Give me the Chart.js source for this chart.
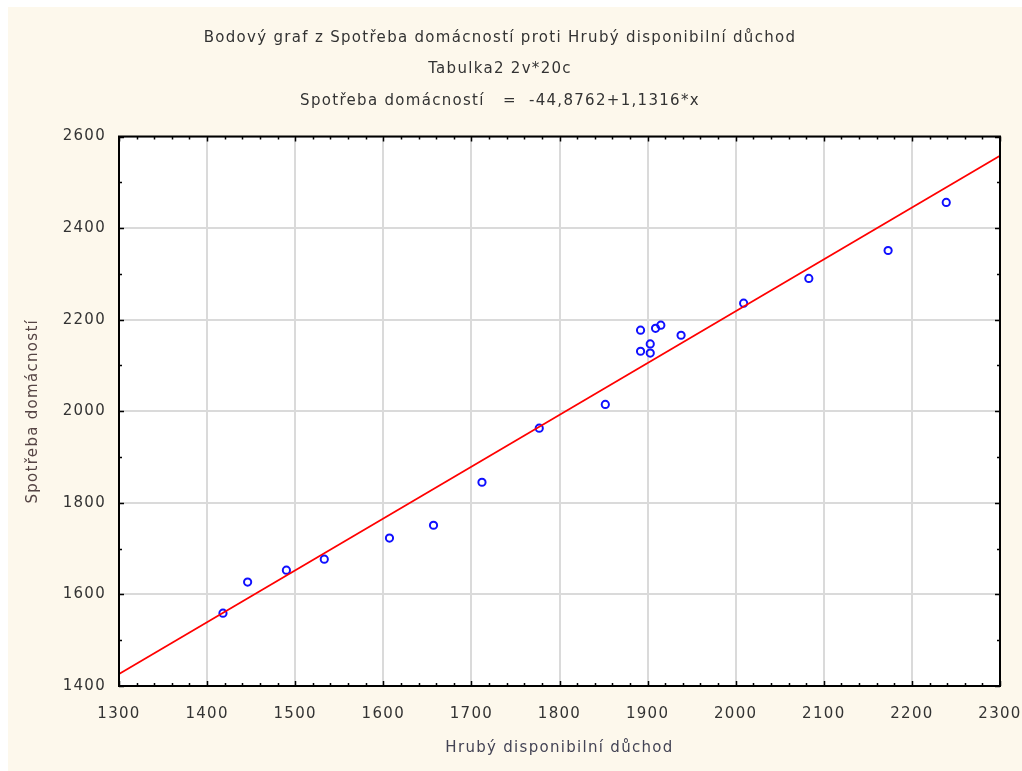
<!DOCTYPE html>
<html>
<head>
<meta charset="utf-8">
<script src="https://cdn.jsdelivr.net/npm/chart.js@4/dist/chart.umd.min.js"></script>
<style>
  html, body { margin: 0; padding: 0; background: #fff; }
  #wrap { width: 1022px; height: 771px; }
</style>
</head>
<body>
<div id="wrap"><canvas id="myChart" width="1022" height="771"></canvas></div>
<script>
// data
const prijem = [1418, 1446, 1490, 1533, 1607, 1657, 1712, 1777, 1852, 1892,
                1892, 1909, 1915, 1903, 1903, 1938, 2009, 2083, 2173, 2239];
const spotreba = [1559, 1627, 1653, 1677, 1723, 1751, 1845, 1963, 2015, 2177,
                  2131, 2181, 2188, 2147, 2127, 2166, 2236, 2290, 2351, 2456];
const xTicks = [1300, 1400, 1500, 1600, 1700, 1800, 1900, 2000, 2100, 2200, 2300];
const yTicks = [1400, 1600, 1800, 2000, 2200, 2400, 2600];
const titleLines = [
  'Bodový graf z Spotřeba domácností proti Hrubý disponibilní důchod',
  'Tabulka2 2v*20c',
  'Spotřeba domácností   =  -44,8762+1,1316*x'
];
const intercept = -44.8762;
const slope = 1.1316;

const points = prijem.map((x, i) => ({x: x, y: spotreba[i]}));
const fit = [xTicks[0], xTicks[xTicks.length - 1]].map(x => ({x: x, y: intercept + slope * x}));

const font = {family: '"DejaVu Sans", Verdana, sans-serif', size: 15};

// the original text is drawn wide, so spread the letters a little
const spacingPlugin = {
  id: 'spacing',
  beforeLayout(chart) { chart.ctx.letterSpacing = '1.3px'; },
  beforeDraw(chart) { chart.ctx.letterSpacing = '1.3px'; }
};

// cream page, white plot area, black frame and inward ticks
const framePlugin = {
  id: 'frame',
  beforeDraw(chart) {
    const c = chart.ctx, a = chart.chartArea;
    c.save();
    c.fillStyle = '#fdf8ec';
    c.fillRect(8, 7, chart.width - 8, chart.height - 7);
    c.fillStyle = '#ffffff';
    c.fillRect(a.left, a.top, a.right - a.left, a.bottom - a.top);
    c.restore();
  },
  afterDraw(chart) {
    const c = chart.ctx, a = chart.chartArea;
    const xs = chart.scales.x, ys = chart.scales.y;
    c.save();
    c.strokeStyle = '#000';
    c.lineWidth = 1.5;
    c.beginPath();
    for (let v = 1300; v <= 2300; v += 20) {
      const px = Math.round(xs.getPixelForValue(v)) + 0.5;
      const len = v % 100 === 0 ? 5 : 3;
      c.moveTo(px, a.bottom); c.lineTo(px, a.bottom - len);
      c.moveTo(px, a.top); c.lineTo(px, a.top + len);
    }
    for (let v = 1400; v <= 2600; v += 100) {
      const py = Math.round(ys.getPixelForValue(v)) + 0.5;
      const len = v % 200 === 0 ? 5 : 3;
      c.moveTo(a.left, py); c.lineTo(a.left + len, py);
      c.moveTo(a.right, py); c.lineTo(a.right - len, py);
    }
    c.stroke();
    c.lineWidth = 2;
    c.strokeRect(a.left, a.top, a.right - a.left, a.bottom - a.top);
    c.restore();
  }
};

const ctx = document.getElementById('myChart').getContext('2d');
const chart = new Chart(ctx, {
  type: 'scatter',
  data: {
    datasets: [{
      label: 'Spotřeba domácností',
      data: points,
      pointStyle: 'circle',
      pointRadius: 3.6,
      pointBorderWidth: 2,
      pointBorderColor: '#1010ff',
      pointBackgroundColor: 'rgba(0,0,0,0)',
      order: 2
    }, {
      type: 'line',
      label: 'fit',
      data: fit,
      borderColor: '#ff0000',
      borderWidth: 1.8,
      pointRadius: 0,
      fill: false,
      order: 1
    }]
  },
  options: {
    responsive: false,
    animation: false,
    layout: {padding: {top: 0, right: 22, bottom: 0, left: 0}},
    plugins: {
      legend: {display: false},
      tooltip: {enabled: false},
      title: {
        display: true,
        text: titleLines,
        color: '#333',
        font: {family: font.family, size: 15, weight: 'normal', lineHeight: '31.5px'},
        padding: {top: 22, bottom: 20}
      }
    },
    scales: {
      x: {
        type: 'linear',
        min: 1300, max: 2300,
        afterBuildTicks: s => { s.ticks = xTicks.map(v => ({value: v})); },
        afterFit: s => { s.height = 85; s.paddingLeft = 0; s.paddingRight = 0; },
        grid: {color: '#dadada', lineWidth: 2, drawTicks: false},
        border: {display: false},
        ticks: {color: '#333', font: font, padding: 19, maxRotation: 0,
                callback: v => String(v)},
        title: {display: true, text: 'Hrubý disponibilní důchod', color: '#445',
                font: font, padding: {top: 0, bottom: 14}}
      },
      y: {
        type: 'linear',
        min: 1400, max: 2600,
        afterBuildTicks: s => { s.ticks = yTicks.map(v => ({value: v})); },
        afterFit: s => { s.width = 119; s.paddingTop = 0; s.paddingBottom = 0; },
        grid: {color: '#dadada', lineWidth: 2, drawTicks: false},
        border: {display: false},
        ticks: {color: '#333', font: font, padding: 13,
                callback: v => String(v)},
        title: {display: true, text: 'Spotřeba domácností', color: '#544',
                font: font, padding: {top: 24, bottom: 0}}
      }
    }
  },
  plugins: [spacingPlugin, framePlugin]
});
</script>
</body>
</html>
